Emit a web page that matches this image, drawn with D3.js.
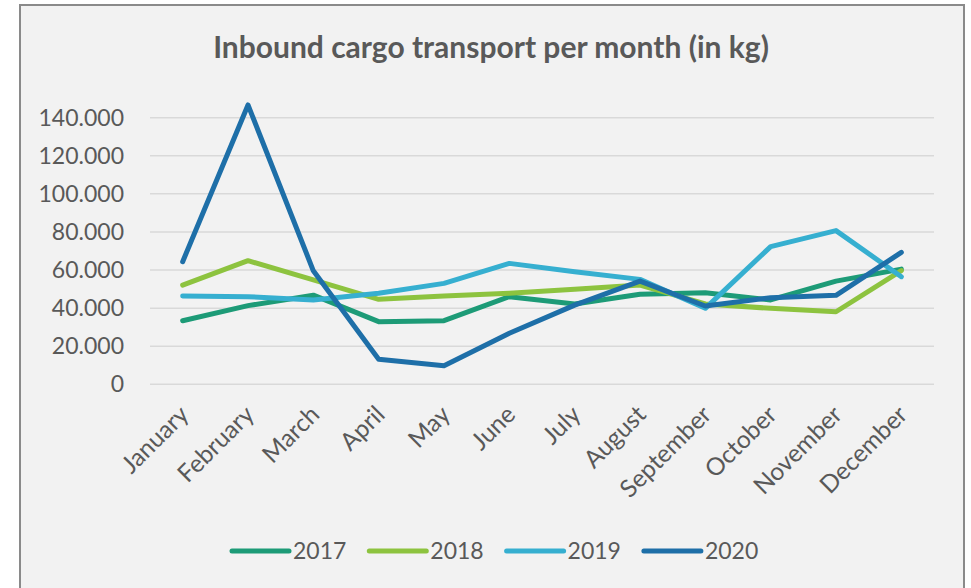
<!DOCTYPE html>
<html>
<head>
<meta charset="utf-8">
<script src="https://cdn.jsdelivr.net/npm/d3@7"></script>
<style>
  html, body { margin: 0; padding: 0; background: #ffffff; }
  svg { display: block; }
  text { font-family: Lato, "Open Sans", sans-serif; fill: #595959; }
</style>
</head>
<body>
<svg id="chart" width="971" height="588"></svg>
<script>
// Monthly inbound cargo (kg) per year
const months = ["January", "February", "March", "April", "May", "June",
                "July", "August", "September", "October", "November", "December"];
const years = ["2017", "2018", "2019", "2020"];
const values2017 = [33400, 41300, 46800, 32900, 33400, 46000, 42200, 47300, 48100, 44300, 54200, 60500];
const values2018 = [52100, 64900, 54800, 44600, 46400, 47800, 49900, 52100, 42200, 39900, 38100, 59700];
const values2019 = [46400, 46000, 44300, 47800, 53000, 63500, 59100, 55100, 39900, 72300, 80700, 56500];
const values2020 = [64400, 146700, 59600, 13100, 9800, 26800, 41600, 54200, 41100, 45500, 46700, 69300];
const yTicks = [0, 20000, 40000, 60000, 80000, 100000, 120000, 140000];
const colors = ["#1d9b77", "#8dc33f", "#36afd0", "#1e6fa8"];

const seriesValues = [values2017, values2018, values2019, values2020];
const series = years.map((y, i) => ({ year: y, color: colors[i], values: seriesValues[i] }));

const svg = d3.select("#chart");

// chart frame
svg.append("rect")
  .attr("x", 20).attr("y", 5)
  .attr("width", 944).attr("height", 640)
  .attr("fill", "#f2f2f2")
  .attr("stroke", "#8a8a8a")
  .attr("stroke-width", 2);

// title
svg.append("text")
  .attr("x", 491).attr("y", 58)
  .attr("text-anchor", "middle")
  .style("font-size", "30px")
  .style("font-weight", "bold")
  .text("Inbound cargo transport per month (in kg)");

const plotLeft = 150, plotRight = 934;
const x = d3.scalePoint()
  .domain(months)
  .range([plotLeft, plotRight])
  .padding(0.5);

const y = d3.scaleLinear()
  .domain([0, 140000])
  .range([384.3, 117.7]);

const locale = d3.formatLocale({ decimal: ",", thousands: ".", grouping: [3], currency: ["", ""] });
const fmt = locale.format(",d");

// horizontal gridlines
svg.append("g")
  .selectAll("line")
  .data(yTicks)
  .join("line")
  .attr("x1", plotLeft).attr("x2", plotRight)
  .attr("y1", d => y(d)).attr("y2", d => y(d))
  .attr("stroke", "#d9d9d9")
  .attr("stroke-width", 1.5);

// y axis labels
const yAxis = d3.axisLeft(y).tickValues(yTicks).tickFormat(fmt).tickSize(0).tickPadding(0);
const yg = svg.append("g").attr("transform", "translate(124,0)").call(yAxis);
yg.select(".domain").remove();
yg.selectAll("text")
  .attr("fill", "#595959")
  .style("font-family", "Lato, sans-serif")
  .style("font-size", "23px");

// x axis labels, rotated
const xAxis = d3.axisBottom(x).tickSize(0).tickPadding(0);
const xg = svg.append("g").attr("transform", "translate(0,398)").call(xAxis);
xg.select(".domain").remove();
xg.selectAll("text")
  .attr("fill", "#595959")
  .style("font-family", "Lato, sans-serif")
  .style("font-size", "24.5px")
  .attr("text-anchor", "end")
  .attr("dy", "0.35em")
  .attr("transform", "translate(1,12) rotate(-45)");

// series lines
const line = d3.line()
  .x((d, i) => x(months[i]))
  .y(d => y(d));

svg.append("g")
  .selectAll("path")
  .data(series)
  .join("path")
  .attr("d", d => line(d.values))
  .attr("fill", "none")
  .attr("stroke", d => d.color)
  .attr("stroke-width", 5)
  .attr("stroke-linejoin", "round")
  .attr("stroke-linecap", "round");

// legend
const legend = svg.append("g")
  .selectAll("g")
  .data(series)
  .join("g")
  .attr("transform", (d, i) => `translate(${232 + i * 137.3},551)`);
legend.append("line")
  .attr("x1", 0).attr("x2", 57)
  .attr("y1", 0).attr("y2", 0)
  .attr("stroke", d => d.color)
  .attr("stroke-width", 5)
  .attr("stroke-linecap", "round");
legend.append("text")
  .attr("x", 61).attr("y", 0)
  .attr("dy", "0.35em")
  .style("font-size", "23px")
  .text(d => d.year);
</script>
</body>
</html>
